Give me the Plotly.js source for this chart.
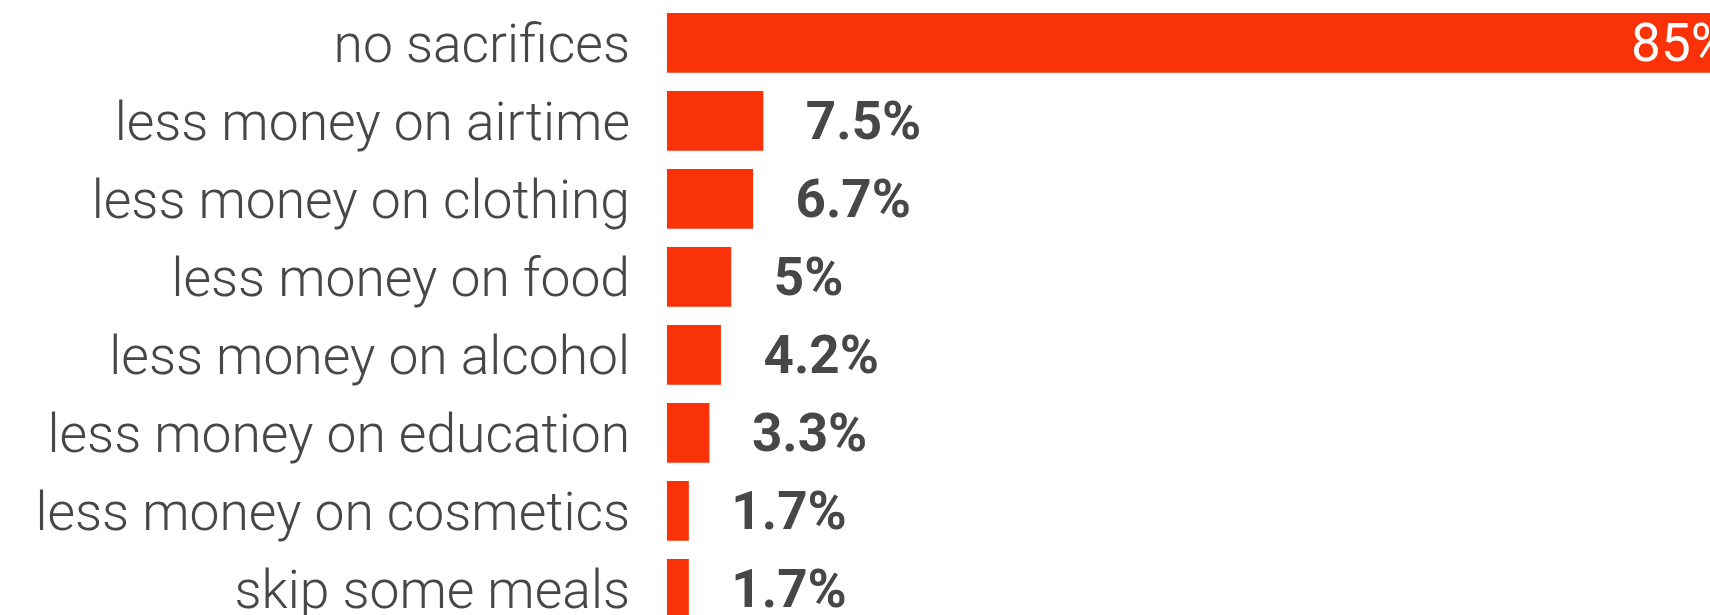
<!DOCTYPE html>
<html>
<head>
<meta charset="utf-8">
<script src="https://cdn.plot.ly/plotly-3.0.1.min.js"></script>
<style>
  html, body { margin: 0; padding: 0; background: #ffffff; }
  #chart { width: 1710px; height: 615px; }
</style>
</head>
<body>
<div id="chart"></div>
<script>
// ---- data ----
const categories = [
  "no sacrifices",
  "less money on airtime",
  "less money on clothing",
  "less money on food",
  "less money on alcohol",
  "less money on education",
  "less money on cosmetics",
  "skip some meals"
];
const shares = [85, 7.5, 6.7, 5, 4.2, 3.3, 1.7, 1.7];
const shareLabels = ["85%", "7.5%", "6.7%", "5%", "4.2%", "3.3%", "1.7%", "1.7%"];

// ---- style ----
const barColor = "#F93208";
const textColor = "#474747";
const NBSP = "\u00A0";

const positions = shares.map(v => v > 50 ? "inside" : "outside");
const texts = shareLabels.map((t, i) =>
  positions[i] === "inside" ? t + NBSP + NBSP : NBSP + NBSP + NBSP + t
);

const trace = {
  type: "bar",
  orientation: "h",
  y: categories,
  x: shares,
  text: texts,
  textposition: positions,
  insidetextanchor: "end",
  constraintext: "none",
  textangle: 0,
  cliponaxis: true,
  insidetextfont: { family: "Roboto", size: 53, color: "#ffffff", weight: 400 },
  outsidetextfont: { family: "Roboto", size: 53, color: textColor, weight: 700 },
  marker: { color: barColor, line: { width: 0 } },
  hoverinfo: "skip"
};

const layout = {
  width: 1710,
  height: 615,
  margin: { l: 667, r: 0, t: 0, b: 0, pad: 0 },
  paper_bgcolor: "#ffffff",
  plot_bgcolor: "#ffffff",
  showlegend: false,
  bargap: 0.235,
  xaxis: {
    range: [0, 81.2],
    visible: false,
    showgrid: false,
    zeroline: false,
    fixedrange: true
  },
  yaxis: {
    type: "category",
    categoryorder: "array",
    categoryarray: categories,
    range: [7.335, -0.549],
    showgrid: false,
    zeroline: false,
    showline: false,
    ticks: "",
    ticklabelstandoff: 36,
    automargin: false,
    tickfont: { family: "Roboto", size: 53.4, color: textColor, weight: 300 },
    fixedrange: true
  }
};

Plotly.newPlot("chart", [trace], layout, { displayModeBar: false, staticPlot: true });
</script>
</body>
</html>
